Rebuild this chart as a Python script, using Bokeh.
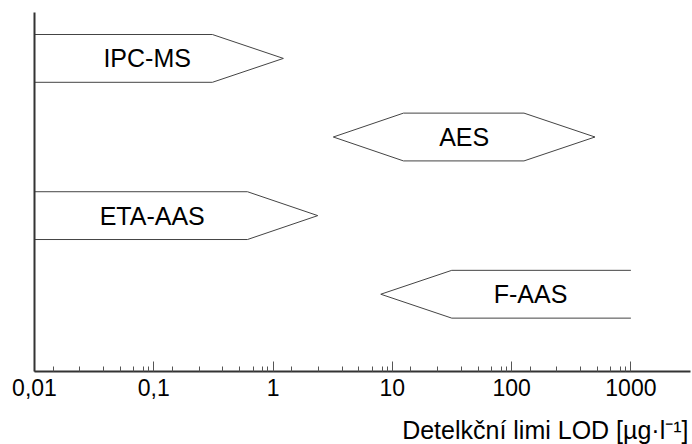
from bokeh.plotting import figure
from bokeh.models import Range1d, FixedTicker, CustomJSTickFormatter, ColumnDataSource, Title
from bokeh.embed import file_html
from bokeh.resources import INLINE
from bokeh.core.properties import value

# ---- data ----
methods = ["IPC-MS", "AES", "ETA-AAS", "F-AAS"]
rows = [4, 3, 2, 1]
tip_lo = [0.01, 3.2, 0.01, 8.0]        # left end (tip if pointed)
body_lo = [0.01, 12.4, 0.01, 31.5]     # where the rectangular body starts
body_hi = [0.31, 127.0, 0.61, 1000.0]  # where the rectangular body ends
tip_hi = [1.22, 500.0, 2.37, 1000.0]   # right end (tip if pointed)
label_x = [0.088, 40.0, 0.097, 144.0]

tick_values = [0.01, 0.1, 1, 10, 100, 1000]
tick_labels = ["0,01", "0,1", "1", "10", "100", "1000"]
minor_mult = [1.43, 2.4, 3.8, 5.25, 6.8, 8.2, 9.05]
x_title = "Detelkční limi LOD [µg·l⁻¹]"

FONT = "Liberation Sans"
HALF = 0.304

xs, ys = [], []
for r, a, b, c, d in zip(rows, tip_lo, body_lo, body_hi, tip_hi):
    top, bot = r + HALF, r - HALF
    if a == b:      # open on the left (starts at the axis)
        px = [b, c, d, c, b]
        py = [top, top, r, bot, bot]
    elif c == d:    # open on the right
        px = [c, b, a, b, c]
        py = [top, top, r, bot, bot]
    else:
        px = [a, b, c, d, c, b, a]
        py = [r, top, top, r, bot, bot, r]
    xs.append(px)
    ys.append(py)

shapes = ColumnDataSource(dict(xs=xs, ys=ys))
labels = ColumnDataSource(dict(x=label_x, y=rows, text=methods))

p = figure(width=692, height=444, x_axis_type="log",
           x_range=Range1d(0.01, 3160), y_range=Range1d(0.017, 4.584),
           output_backend="svg", toolbar_location=None,
           min_border_left=34, min_border_right=2, min_border_top=12,
           min_border_bottom=73)
p.outline_line_color = None
p.xgrid.visible = False
p.ygrid.visible = False
p.background_fill_color = "white"
p.border_fill_color = "white"

p.multi_line("xs", "ys", source=shapes, line_color="#444444", line_width=1)
p.text("x", "y", text="text", source=labels, text_align="center",
       text_baseline="middle", text_font=value(FONT),
       text_font_size="25px", text_color="black")

xa = p.xaxis[0]
xa.ticker = FixedTicker(ticks=tick_values,
                        minor_ticks=[t * m for t in tick_values[:-1] for m in minor_mult])
xa.formatter = CustomJSTickFormatter(
    args=dict(vals=tick_values, labs=tick_labels),
    code="""
    for (let i = 0; i < vals.length; i++) {
        if (Math.abs(Math.log10(vals[i]) - Math.log10(tick)) < 1e-6) return labs[i];
    }
    return '';
    """)
xa.axis_line_color = "#333333"
xa.axis_line_width = 2
xa.major_tick_in = 10
xa.major_tick_out = 0
xa.minor_tick_in = 5
xa.minor_tick_out = 0
xa.major_tick_line_color = "#555555"
xa.minor_tick_line_color = "#555555"
xa.major_label_standoff = 7
xa.major_label_text_font = FONT
xa.major_label_text_font_size = "23px"
xa.major_label_text_color = "black"

# small spacer between tick labels and the axis title
p.add_layout(Title(text=" ", text_font_size="1px", standoff=11), "below")
p.add_layout(Title(text=x_title, align="right", text_font=FONT,
                   text_font_size="25px", text_font_style="normal",
                   text_color="black", standoff=2, offset=2), "below")

ya = p.yaxis[0]
ya.ticker = FixedTicker(ticks=[])
ya.axis_line_color = "#333333"
ya.axis_line_width = 2
ya.major_tick_line_color = None
ya.minor_tick_line_color = None

open("out.html", "w").write(file_html(p, INLINE))
